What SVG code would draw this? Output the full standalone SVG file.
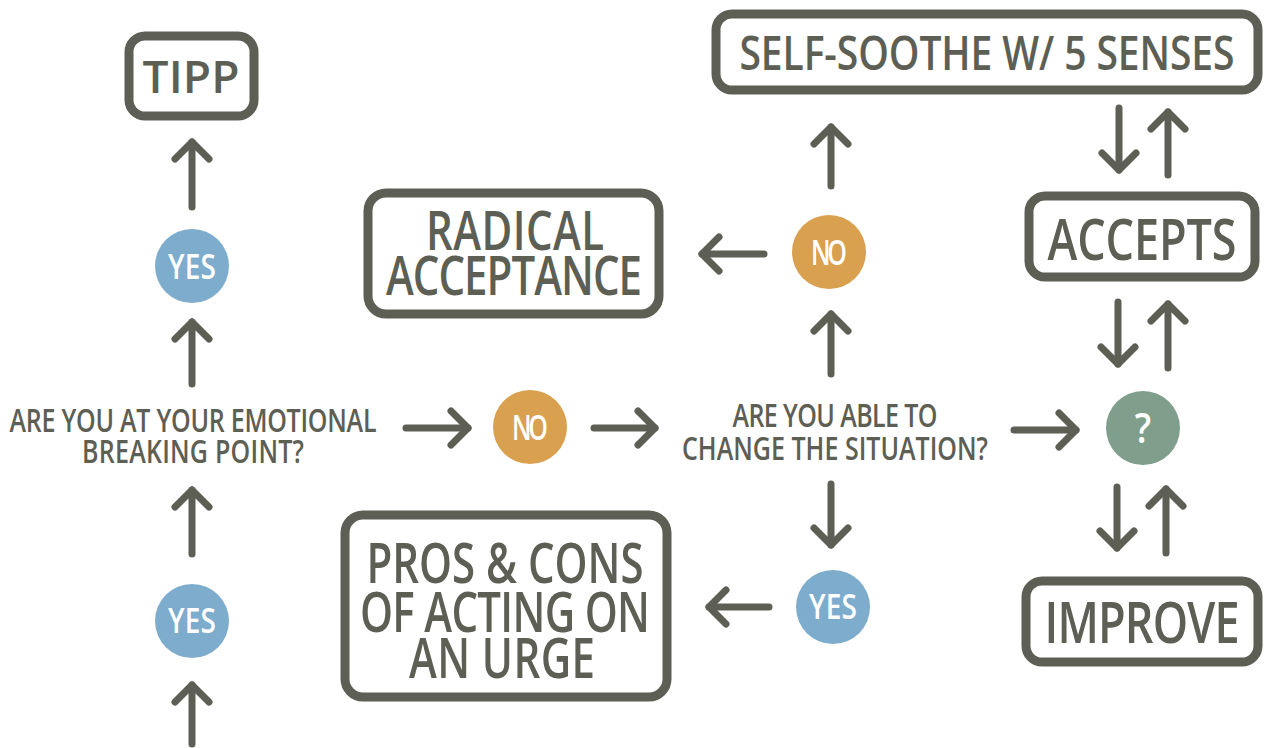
<svg xmlns="http://www.w3.org/2000/svg" width="1264" height="748" viewBox="0 0 1264 748">
<style>
.box{fill:#fff;stroke:#5d5e54;stroke-width:9}
.t{font-family:"Open Sans","Liberation Sans",sans-serif;font-weight:600;fill:#5d5e54;text-anchor:middle}
.c{font-family:"Open Sans","Liberation Sans",sans-serif;font-weight:600;fill:#fff;text-anchor:middle}
.a{fill:none;stroke:#5d5e54;stroke-width:7;stroke-linecap:round;marker-end:url(#ah)}
</style>
<defs>
<marker id="ah" viewBox="-24 -24 48 48" markerWidth="48" markerHeight="48" markerUnits="userSpaceOnUse" refX="0" refY="0" orient="auto">
<path d="M-17,-17 L0,0 L-17,17" fill="none" stroke="#5d5e54" stroke-width="7" stroke-linecap="round" stroke-linejoin="round"/>
</marker>
</defs>
<rect width="1264" height="748" fill="#fff"/>
<g id="connectors">
<line class="a" x1="192" y1="207" x2="192" y2="142"/>
<line class="a" x1="192" y1="384" x2="192" y2="322"/>
<line class="a" x1="192" y1="554" x2="192" y2="490"/>
<line class="a" x1="192" y1="744" x2="192" y2="685"/>
<line class="a" x1="406" y1="428" x2="468" y2="428"/>
<line class="a" x1="594" y1="428" x2="655" y2="428"/>
<line class="a" x1="1014" y1="430" x2="1076" y2="430"/>
<line class="a" x1="831" y1="186" x2="831" y2="127"/>
<line class="a" x1="831" y1="374" x2="831" y2="314"/>
<line class="a" x1="764" y1="254" x2="702" y2="254"/>
<line class="a" x1="831" y1="484" x2="831" y2="545"/>
<line class="a" x1="769" y1="607" x2="709" y2="607"/>
<line class="a" x1="1119" y1="108" x2="1119" y2="170"/>
<line class="a" x1="1168" y1="175" x2="1168" y2="112"/>
<line class="a" x1="1118" y1="302" x2="1118" y2="364"/>
<line class="a" x1="1168" y1="368" x2="1168" y2="304"/>
<line class="a" x1="1117" y1="487" x2="1117" y2="548"/>
<line class="a" x1="1166" y1="553" x2="1166" y2="489"/>
</g>
<g id="tipp"><rect class="box" x="129" y="36" width="125" height="80" rx="16"/><text class="t" transform="translate(191,93)" font-size="46" textLength="97">TIPP</text></g>
<g id="selfsoothe"><rect class="box" x="716" y="14" width="542" height="76" rx="16"/><text class="t" transform="translate(987,70) scale(1,1.21)" font-size="39" textLength="495">SELF-SOOTHE W/ 5 SENSES</text></g>
<g id="accepts"><rect class="box" x="1029" y="196" width="226" height="81" rx="16"/><text class="t" transform="translate(1142,260) scale(1,1.29)" font-size="45" textLength="189">ACCEPTS</text></g>
<g id="improve"><rect class="box" x="1026" y="581" width="232" height="81" rx="16"/><text class="t" transform="translate(1142,643) scale(1,1.3)" font-size="45" textLength="195">IMPROVE</text></g>
<g id="radical"><rect class="box" x="368" y="193" width="291" height="121" rx="18"/><text class="t" transform="translate(515,250) scale(1,1.27)" font-size="42" textLength="178">RADICAL</text><text class="t" transform="translate(514,295) scale(1,1.3)" font-size="42" textLength="256">ACCEPTANCE</text></g>
<g id="proscons"><rect class="box" x="345" y="515" width="322" height="182" rx="18"/><text class="t" transform="translate(505,583) scale(1,1.32)" font-size="42" textLength="277">PROS &amp; CONS</text><text class="t" transform="translate(505,632) scale(1,1.34)" font-size="42" textLength="290">OF ACTING ON</text><text class="t" transform="translate(502,678) scale(1,1.34)" font-size="42" textLength="186">AN URGE</text></g>
<g id="q1"><text class="t" transform="translate(193,432) scale(1,1.28)" font-size="25" textLength="367">ARE YOU AT YOUR EMOTIONAL</text><text class="t" transform="translate(193,463) scale(1,1.28)" font-size="25" textLength="222">BREAKING POINT?</text></g>
<g id="q2"><text class="t" transform="translate(835,427) scale(1,1.28)" font-size="25" textLength="205">ARE YOU ABLE TO</text><text class="t" transform="translate(835,460) scale(1,1.28)" font-size="25" textLength="306">CHANGE THE SITUATION?</text></g>
<g id="yes1"><circle cx="192" cy="266" r="37" fill="#7eaccc"/><text class="c" transform="translate(192,279) scale(1,1.2)" font-size="28" textLength="48">YES</text></g>
<g id="yes2"><circle cx="192" cy="621" r="37" fill="#7eaccc"/><text class="c" transform="translate(192,633) scale(1,1.2)" font-size="28" textLength="48">YES</text></g>
<g id="no1"><circle cx="530" cy="427" r="37" fill="#d9a04f"/><text class="c" transform="translate(530,440) scale(1,1.35)" font-size="25" textLength="36">NO</text></g>
<g id="no2"><circle cx="829" cy="252" r="37" fill="#d9a04f"/><text class="c" transform="translate(829,265) scale(1,1.35)" font-size="25" textLength="36">NO</text></g>
<g id="yes3"><circle cx="833" cy="607" r="37" fill="#7eaccc"/><text class="c" transform="translate(833,619) scale(1,1.2)" font-size="28" textLength="48">YES</text></g>
<g id="q"><circle cx="1143" cy="428" r="37" fill="#7f9f8c"/><text class="c" transform="translate(1143,443) scale(1,1.15)" font-size="36">?</text></g>
</svg>
